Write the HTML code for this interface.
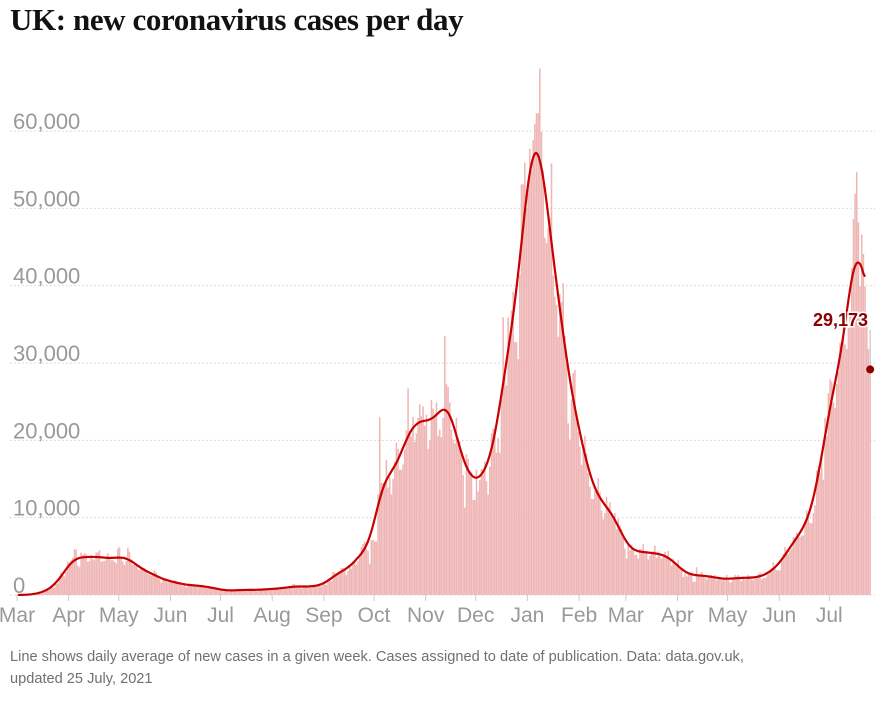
<!DOCTYPE html>
<html><head><meta charset="utf-8">
<style>
body{margin:0;background:#fff;width:881px;height:701px;overflow:hidden;font-family:"Liberation Sans",sans-serif}
#title{position:absolute;left:10px;top:2px;font-family:"Liberation Serif",serif;font-weight:bold;font-size:31px;color:#121212;letter-spacing:-0.4px}
#foot{position:absolute;left:10px;top:646px;font-size:14.6px;line-height:22px;color:#707070;width:850px}
svg{position:absolute;left:0;top:0}
</style></head><body>
<div id="title">UK: new coronavirus cases per day</div>
<svg id="chart" width="881" height="701"></svg>
<div id="foot">Line shows daily average of new cases in a given week. Cases assigned to date of publication. Data: data.gov.uk,<br>updated 25 July, 2021</div>
<script>
const monthLabels=["Mar","Apr","May","Jun","Jul","Aug","Sep","Oct","Nov","Dec","Jan","Feb","Mar","Apr","May","Jun","Jul"];
const monthDays=[31,30,31,30,31,31,30,31,30,31,31,28,31,30,31,30,25];
const yTicks=[0,10000,20000,30000,40000,50000,60000];
const lastValue=29173;
const cases2020=[
0,0,0,0,0,0,0,0,0.1,0.1,0.1,0.1,0.2,0.3,0.2,0.2,0.4,0.6,0.6,0.7,1,1,1,1.4,1.5,2.1,2.9,2.5,2.4,3,4.3,
4.2,4.5,4.8,5.9,5.9,3.8,3.6,5.5,5.2,5.4,5.3,4.3,4.4,5.2,4.6,4.6,5.5,5.5,5.8,4.3,4.4,4.4,4.6,5.4,4.9,4.5,4.5,4.3,4.1,6.0,
6.2,4.8,4.3,3.9,4.4,6.1,5.6,4.6,3.9,3.9,3.9,3.4,3.2,3.4,3.5,3.5,3.1,2.7,2.7,2.5,2.6,3.2,2.9,2.4,2.0,1.6,2.0,2.0,2.1,1.6,1.9,
1.6,1.6,1.9,1.8,1.6,1.5,1.3,1.2,1.4,1.0,1.3,1.5,1.4,1.2,1.1,1.3,1.1,1.2,1.3,1.3,1.2,0.9,0.9,0.9,1.1,1.0,0.9,0.9,0.8,0.7,
0.6,0.6,0.5,0.6,0.5,0.4,0.6,0.6,0.6,0.6,0.8,0.7,0.6,0.6,0.6,0.5,0.8,0.8,0.8,0.7,0.5,0.5,0.5,0.8,0.8,0.7,0.7,0.6,0.8,0.8,0.9,
0.7,0.9,0.9,0.8,0.7,0.9,0.9,0.8,0.8,1.1,1.0,1.0,1.4,1.4,1.2,1.0,1.0,0.8,1.2,1.2,1.0,1.2,1.1,0.9,1.2,1.0,1.3,1.2,1.2,1.1,1.4,
1.5,1.3,1.7,1.9,1.8,3.0,2.9,2.5,2.7,3.0,3.5,3.5,3.3,2.6,3.1,3.9,3.4,4.3,4.4,3.9,4.4,5.0,6.2,6.6,6.9,6.0,5.7,4.0,7.1,7.1,
6.9,6.9,13,23,14.5,14.5,14.2,17.5,13.9,15.2,13,15,17.2,19.7,18.9,16.2,16.2,16.9,18.8,21.3,26.7,21.2,20.5,23.0,19.8,20.9,22.9,24.7,23.1,24.4,21.9,
23.3,18.9,20.0,25.2,24.1,23.3,24.9,20.6,21.4,20.4,22.9,33.5,27.3,26.9,24.9,21.4,20.1,19.6,22.9,20.3,19.9,18.7,15.5,11.3,18.2,17.6,16.0,15.9,12.3,12.3,
16.2,13.4,14.9,16.3,15.5,17.3,14.7,13.0,16.6,20.9,21.5,21.5,18.4,20.3,18.4,25.2,35.9,28.5,27.1,35.9,33.4,36.8,39.2,32.7,32.7,30.5,41.4,53.1,53.1,55.9,50.0];
const cases2021=[
53.3,57.7,54.9,58.8,60.9,62.3,62.3,68.1,59.9,54.9,46.2,45.5,47.5,48.7,55.8,41.3,38.6,37.5,33.4,38.9,37.9,40.3,33.5,30.0,22.2,20.1,25.3,28.7,29.1,23.3,21.1,
19.2,16.8,19.2,20.6,18.3,15.8,14.0,12.4,12.4,13.5,13.5,15.1,13.3,10.9,9.8,10.6,12.7,11.4,12.0,10.4,9.8,10.6,8.5,9.9,9.0,8.5,7.4,6.0,
4.7,6.4,5.8,6.5,6.0,5.2,5.2,4.7,6.0,5.9,6.6,5.5,5.5,4.6,5.1,5.3,5.7,6.4,4.8,5.6,5.3,4.7,5.3,5.6,5.0,5.7,4.7,3.8,4.7,4.1,3.7,
4.5,3.4,3.4,2.3,2.8,2.4,2.6,3.0,3.0,1.7,1.7,3.6,2.5,2.5,3.0,2.5,2.2,2.0,2.5,2.5,2.6,2.4,2.6,1.9,2.0,2.1,1.9,2.2,2.0,2.6,
1.9,1.6,1.7,2.2,2.6,2.4,2.6,2.0,1.8,2.4,2.0,2.3,2.6,2.2,2.0,1.9,2.4,2.1,2.7,2.9,2.0,2.2,2.2,2.4,2.7,3.2,3.5,4.2,3.4,3.2,3.2,
3.2,4.3,5.3,6.2,5.8,5.3,5.7,6.0,7.5,7.4,8.1,7.7,7.5,7.7,7.7,9.1,11.0,10.5,9.3,9.3,10.6,11.6,16.1,16.7,15.8,18.3,14.9,22.9,20.5,26.1,
27.9,27.6,24.9,24.2,27.3,28.8,32.6,32.6,35.7,32.4,31.8,34.5,36.7,42.3,48.6,51.9,54.7,48.2,39.9,46.6,44.1,39.9,36.4,31.8,29.2];

const NS="http://www.w3.org/2000/svg";
const svg=document.getElementById('chart');
const data=cases2020.concat(cases2021).map(v=>v*1000);
const N=data.length;
const X0=17,X1=871,Y0=595,Y1=131;
const x=i=>X0+(X1-X0)*i/N;
const y=v=>Y0-(Y0-Y1)*v/60000;
function mk(t,a){const e=document.createElementNS(NS,t);for(const k in a)e.setAttribute(k,a[k]);svg.appendChild(e);return e;}
yTicks.forEach(t=>{
  const g=mk('line',{x1:10,x2:875,y1:y(t),y2:y(t),stroke:'#cfcfcf','stroke-dasharray':'1.5,2.5','stroke-width':1});
  
  
  const tx=mk('text',{x:13,y:y(t)-2,'font-size':22,fill:'#999','font-family':'Liberation Sans, sans-serif'});
  tx.textContent=t.toLocaleString('en-GB');
  
  
});
const bw=(X1-X0)/N;
data.forEach((v,i)=>{
  const b=mk('rect',{x:x(i),y:y(v),width:bw*0.92,height:Y0-y(v),fill:'#efb6b6'});
  
  
});
let d=0;
monthLabels.forEach((m,k)=>{
  const tk=mk('line',{x1:x(d),x2:x(d),y1:Y0,y2:Y0+6,stroke:'#ccc','stroke-width':1});
  
  
  const tx=mk('text',{x:x(d),y:Y0+27,'font-size':21,fill:'#999','text-anchor':'middle','font-family':'Liberation Sans, sans-serif'});
  tx.textContent=m;
  
  
  d+=monthDays[k];
});
function roll(arr,w){return arr.map((_,i)=>{let s=0,c=0;for(let j=i-w;j<=i+w;j++){if(j>=0&&j<arr.length){s+=arr[j];c++;}}return s/c;});}
const avg=roll(roll(roll(data,3),4),4);
const end=N-4;
let pts=[];for(let i=0;i<=end;i++)pts.push([x(i)+bw/2,y(avg[i])]);
let p='M'+pts[0][0]+','+pts[0][1];
for(let i=1;i<pts.length;i++){const a=pts[Math.max(0,i-2)],b=pts[i-1],c=pts[i],e=pts[Math.min(pts.length-1,i+1)];
p+=`C${b[0]+(c[0]-a[0])/6},${b[1]+(c[1]-a[1])/6} ${c[0]-(e[0]-b[0])/6},${c[1]-(e[1]-b[1])/6} ${c[0]},${c[1]}`;}
const ln=mk('path',{d:p,fill:'none',stroke:'#c70000','stroke-width':2.2});


const lx=x(N-1)+bw/2;
const gl=mk('line',{x1:lx,x2:lx,y1:330,y2:y(lastValue),stroke:'#bbb','stroke-width':1});


const dot=mk('circle',{cx:lx,cy:y(lastValue),r:4,fill:'#8b0000'});


const at=mk('text',{x:868,y:326,'font-size':18,'font-weight':'bold',fill:'#8b0000','text-anchor':'end','font-family':'Liberation Sans, sans-serif',stroke:'#fff','stroke-width':3,'paint-order':'stroke'});
at.textContent=lastValue.toLocaleString('en-GB');


</script>
</body></html>
